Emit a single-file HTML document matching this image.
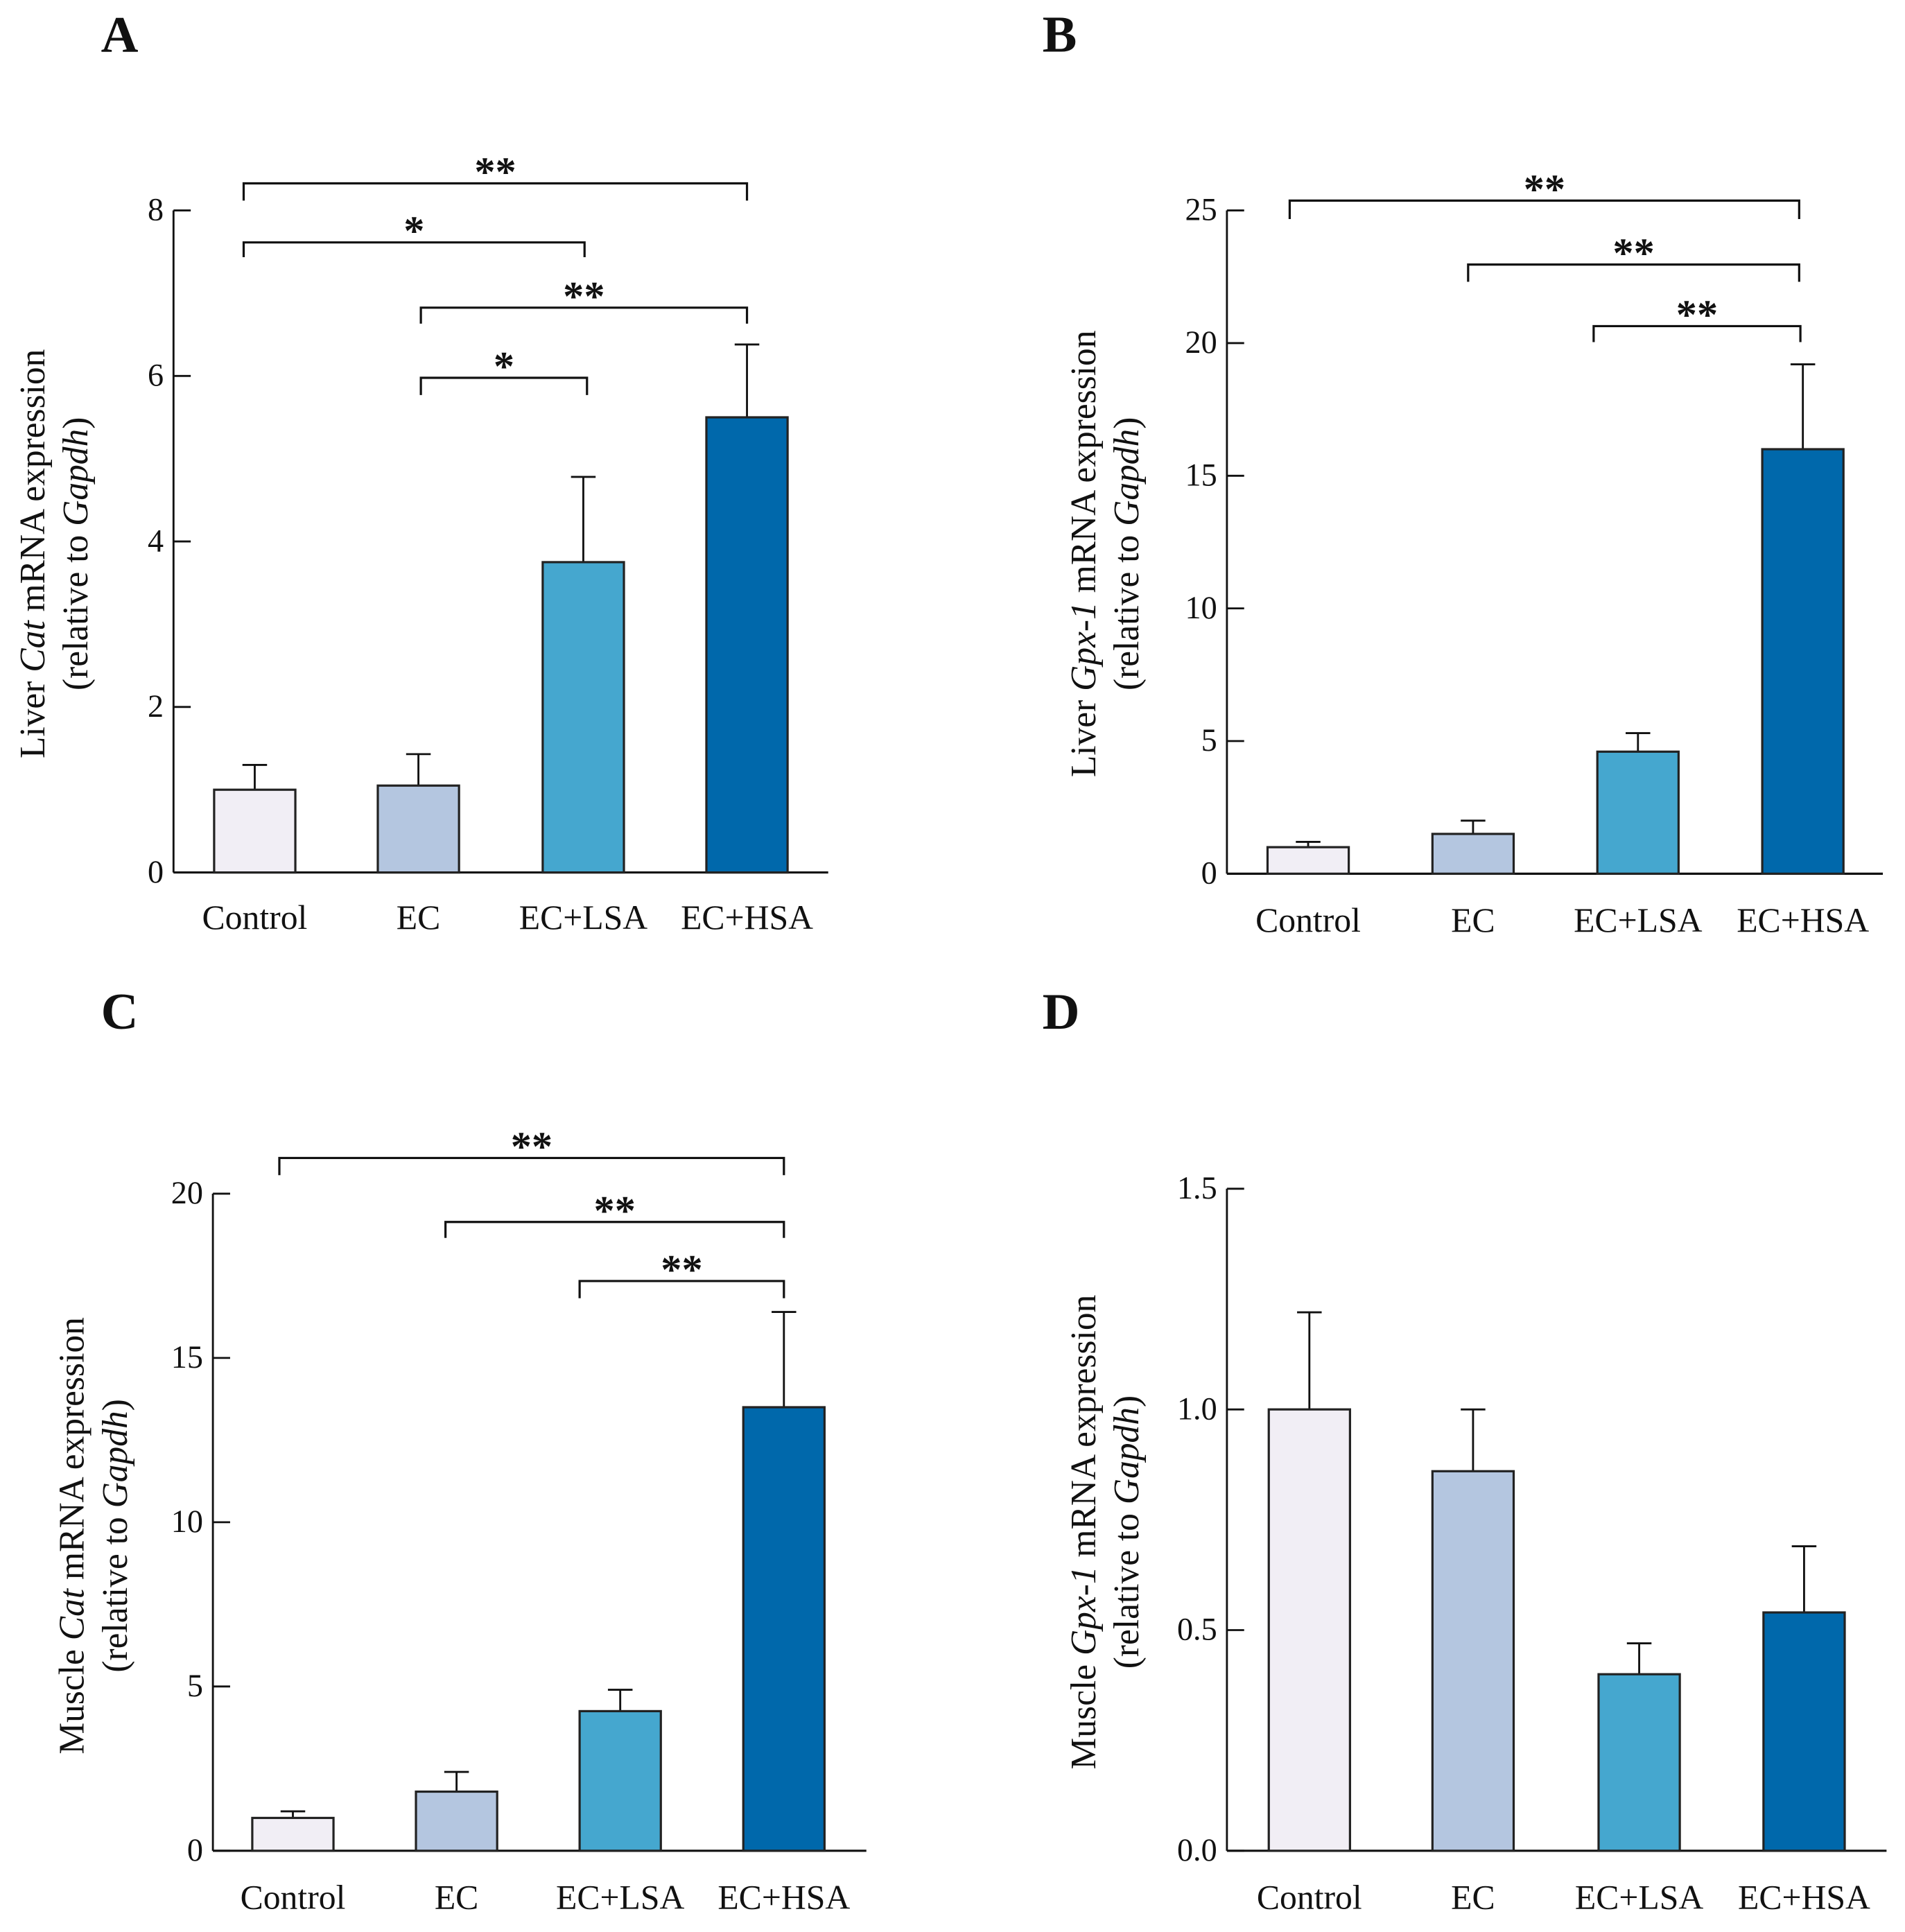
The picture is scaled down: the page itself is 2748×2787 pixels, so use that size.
<!DOCTYPE html>
<html><head><meta charset="utf-8"><style>
html,body{margin:0;padding:0;background:#fff}
svg{display:block}
text{font-family:"Liberation Serif",serif;fill:#111}
</style></head><body>
<svg id="fig" width="2748" height="2787" viewBox="0 0 1548 1570" preserveAspectRatio="none" xmlns="http://www.w3.org/2000/svg"></svg>
<script>
const categories = ["Control","EC","EC+LSA","EC+HSA"];
const colors = ["#f1eef5","#b4c6e0","#45a7cf","#0068ab"];
const valuesA = [1.0,1.05,3.75,5.5];
const errA = [1.3,1.43,4.78,6.38];
const ticksA = [0,2,4,6,8];
const valuesB = [1.0,1.5,4.6,16.0];
const errB = [1.2,2.0,5.3,19.2];
const ticksB = [0,5,10,15,20,25];
const valuesC = [1.0,1.8,4.25,13.5];
const errC = [1.2,2.4,4.9,16.4];
const ticksC = [0,5,10,15,20];
const valuesD = [1.0,0.86,0.4,0.54];
const errD = [1.22,1.0,0.47,0.69];
const ticksD = ["0.0","0.5","1.0","1.5"];

const svg = document.getElementById('fig');
const NS = "http://www.w3.org/2000/svg";
function el(tag, attrs, parent){const e=document.createElementNS(NS,tag);for(const k in attrs)e.setAttribute(k,attrs[k]);(parent||svg).appendChild(e);return e;}

function panel(cfg){
  const g = el('g',{});
  
  
  const ymax = cfg.ticks[cfg.ticks.length-1]*1;
  const y = v => cfg.y0 - (v/ymax)*(cfg.y0-cfg.ytop);
  const lt = el('text',{x:cfg.letterX,y:cfg.letterY,'font-size':42,'font-weight':'bold'},g);
  lt.textContent = cfg.letter;
  
  
  const ya = el('line',{x1:cfg.ax,y1:cfg.ytop,x2:cfg.ax,y2:cfg.y0,stroke:'#111','stroke-width':1.6},g);
  
  
  const xa = el('line',{x1:cfg.ax,y1:cfg.y0,x2:cfg.axEnd,y2:cfg.y0,stroke:'#111','stroke-width':1.8},g);
  
  
  cfg.ticks.forEach(t=>{
    const yy=y(parseFloat(t));
    el('line',{x1:cfg.ax,y1:yy,x2:cfg.ax+14,y2:yy,stroke:'#111','stroke-width':1.6},g);
    const tx=el('text',{x:cfg.ax-8,y:yy+8,'font-size':26,'text-anchor':'end'},g);
    tx.textContent=t;
    
    
  });
  categories.forEach((c,i)=>{
    const x0=cfg.bx[i], w=66, v=cfg.values[i], e=cfg.err[i];
    const cx=x0+w/2;
    const eb=el('line',{x1:cx,y1:y(v),x2:cx,y2:y(e),stroke:'#111','stroke-width':1.6},g);
    
    
    el('line',{x1:cx-10,y1:y(e),x2:cx+10,y2:y(e),stroke:'#111','stroke-width':1.6},g);
    const r=el('rect',{x:x0,y:y(v),width:w,height:cfg.y0-y(v),fill:colors[i],stroke:'#222','stroke-width':1.8},g);
    
    
    const lb=el('text',{x:cx,y:cfg.labY,'font-size':28,'text-anchor':'middle'},g);
    lb.textContent=c;
    
    
  });
  (cfg.brackets||[]).forEach(b=>{
    const p=el('path',{d:`M${b[0]},${b[3]} L${b[0]},${b[2]} L${b[1]},${b[2]} L${b[1]},${b[3]}`,fill:'none',stroke:'#111','stroke-width':1.8},g);
    
    
    const s=el('text',{x:(b[0]+b[1])/2,y:b[2]+2,'font-size':34,'font-weight':'bold','text-anchor':'middle','font-family':'Liberation Sans, sans-serif'},g);
    s.textContent=b[4];
    
    
  });
  const yl=el('text',{transform:`translate(${cfg.ylx},${cfg.ylc}) rotate(-90)`,'font-size':29,'text-anchor':'middle'},g);
  
  
  yl.innerHTML=`<tspan x="0" y="0">${cfg.yl1}</tspan><tspan x="0" y="35">(relative to  <tspan font-style="italic">Gapdh</tspan>)</tspan>`;
}

panel({letter:'A',letterX:82,letterY:42,ax:141,axEnd:673,y0:709,ytop:171,ticks:ticksA,values:valuesA,err:errA,
  bx:[174,307,441,574],labY:755,ylx:36,ylc:450,yl1:'Liver <tspan font-style="italic">Cat</tspan> mRNA expression',
  brackets:[[198,607,149,163,'**'],[198,475,197,209,'*'],[342,607,250,263,'**'],[342,477,307,321,'*']]});
panel({letter:'B',letterX:847,letterY:42,ax:997,axEnd:1530,y0:710,ytop:171,ticks:ticksB,values:valuesB,err:errB,
  bx:[1030,1164,1298,1432],labY:757,ylx:890,ylc:450,yl1:'Liver  <tspan font-style="italic">Gpx-1</tspan>  mRNA expression',
  brackets:[[1048,1462,163,178,'**'],[1193,1462,215,229,'**'],[1295,1463,265,278,'**']]});
panel({letter:'C',letterX:82,letterY:836,ax:173,axEnd:704,y0:1504,ytop:970,ticks:ticksC,values:valuesC,err:errC,
  bx:[205,338,471,604],labY:1551,ylx:68,ylc:1248,yl1:'Muscle <tspan font-style="italic">Cat</tspan>  mRNA expression',
  brackets:[[227,637,941,955,'**'],[362,637,993,1006,'**'],[471,637,1041,1055,'**']]});
panel({letter:'D',letterX:847,letterY:836,ax:997,axEnd:1533,y0:1504,ytop:966,ticks:ticksD,values:valuesD,err:errD,
  bx:[1031,1164,1299,1433],labY:1551,ylx:890,ylc:1245,yl1:'Muscle  <tspan font-style="italic">Gpx-1</tspan>  mRNA expression',
  brackets:[]});
</script>
</body></html>
